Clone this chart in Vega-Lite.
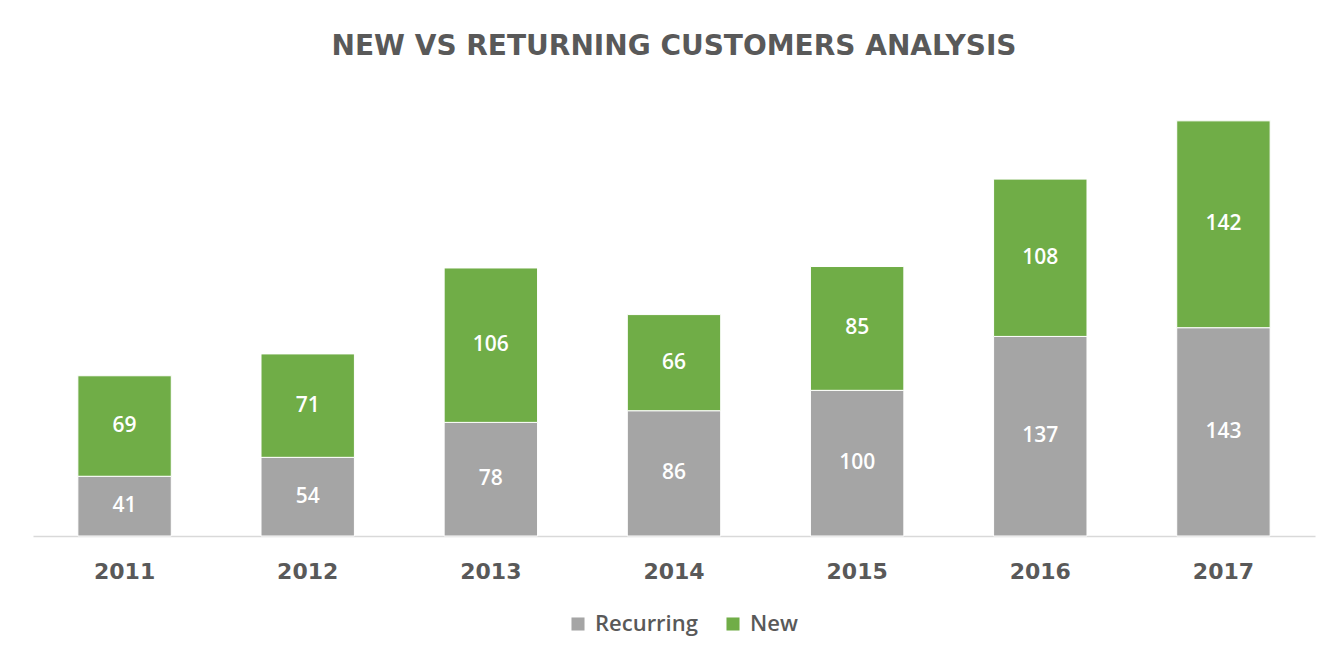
{
  "$schema": "https://vega.github.io/schema/vega-lite/v6.json",
  "width": 1282,
  "height": 437,
  "autosize": {"type": "none"},
  "padding": {"left": 33, "top": 99, "right": 26, "bottom": 121},
  "background": "white",
  "title": {
    "text": "NEW VS RETURNING CUSTOMERS ANALYSIS",
    "font": "DejaVu Sans",
    "fontSize": 28,
    "fontWeight": "bold",
    "color": "#595959",
    "anchor": "middle",
    "offset": 38
  },
  "config": {"view": {"stroke": null}},
  "data": {
    "values": [
      {"year": "2011", "series": "Recurring", "value": 41},
      {"year": "2011", "series": "New", "value": 69},
      {"year": "2012", "series": "Recurring", "value": 54},
      {"year": "2012", "series": "New", "value": 71},
      {"year": "2013", "series": "Recurring", "value": 78},
      {"year": "2013", "series": "New", "value": 106},
      {"year": "2014", "series": "Recurring", "value": 86},
      {"year": "2014", "series": "New", "value": 66},
      {"year": "2015", "series": "Recurring", "value": 100},
      {"year": "2015", "series": "New", "value": 85},
      {"year": "2016", "series": "Recurring", "value": 137},
      {"year": "2016", "series": "New", "value": 108},
      {"year": "2017", "series": "Recurring", "value": 143},
      {"year": "2017", "series": "New", "value": 142}
    ]
  },
  "transform": [
    {"stack": "value", "groupby": ["year"], "sort": [{"field": "series", "order": "descending"}], "as": ["v0", "v1"]},
    {"calculate": "(datum.v0 + datum.v1) / 2", "as": "vmid"}
  ],
  "encoding": {
    "x": {
      "field": "year",
      "type": "nominal",
      "scale": {"paddingInner": 0.49, "paddingOuter": 0.245},
      "axis": {
        "title": null,
        "labelAngle": 0,
        "ticks": false,
        "domainColor": "#d9d9d9",
        "domainWidth": 1.5,
        "labelFont": "DejaVu Sans",
        "labelFontSize": 22,
        "labelFontWeight": "bold",
        "labelColor": "#595959",
        "labelPadding": 25
      }
    }
  },
  "layer": [
    {
      "mark": {"type": "bar", "stroke": "white", "strokeWidth": 1},
      "encoding": {
        "y": {"field": "v0", "type": "quantitative", "scale": {"domain": [0, 300]}, "axis": null},
        "y2": {"field": "v1"},
        "color": {
          "field": "series",
          "type": "nominal",
          "scale": {"domain": ["Recurring", "New"], "range": ["#a5a5a5", "#70ad47"]},
          "legend": {
            "title": null,
            "orient": "none",
            "legendX": 534,
            "legendY": 514,
            "direction": "horizontal",
            "symbolType": "square",
            "symbolSize": 170,
            "symbolStrokeWidth": 0,
            "labelFont": "Open Sans",
            "labelFontSize": 22,
            "labelFontWeight": 600,
            "labelColor": "#595959",
            "labelOffset": 6,
            "columnPadding": 24
          }
        }
      }
    },
    {
      "mark": {"type": "text", "color": "white", "font": "Open Sans", "fontSize": 21, "fontWeight": 600, "baseline": "middle"},
      "encoding": {
        "y": {"field": "vmid", "type": "quantitative", "scale": {"domain": [0, 300]}},
        "text": {"field": "value", "type": "quantitative"}
      }
    }
  ]
}
